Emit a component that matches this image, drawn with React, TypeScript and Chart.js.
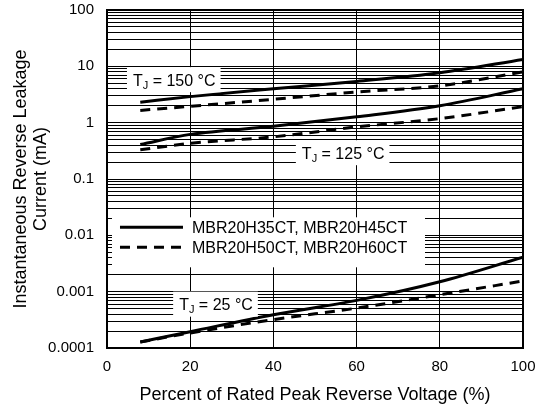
import React, { useEffect, useRef } from "react";
import { Chart, registerables } from "chart.js";

Chart.register(...registerables);

const xValues = [8, 20, 40, 60, 80, 100];
const s150Solid = [2.3, 2.9, 4.0, 5.4, 7.7, 13.3];
const s150Dashed = [1.65, 1.95, 2.6, 3.5, 4.5, 8.0];
const s125Solid = [0.41, 0.62, 0.86, 1.27, 2.0, 4.0];
const s125Dashed = [0.33, 0.43, 0.56, 0.84, 1.18, 1.92];
const s25Solid = [0.000128, 0.000195, 0.00039, 0.0007, 0.0015, 0.0041];
const s25Dashed = [0.000128, 0.000185, 0.00032, 0.00051, 0.00088, 0.00155];

const xTicks = [0, 20, 40, 60, 80, 100];
const yDecades = [0.0001, 0.001, 0.01, 0.1, 1, 10, 100];
const yDecadeLabels = ["0.0001", "0.001", "0.01", "0.1", "1", "10", "100"];

const legendLabels = ["MBR20H35CT, MBR20H45CT", "MBR20H50CT, MBR20H60CT"];
const tempLabels = [
  { temp: "150", x: 4.8, y: 5.8 },
  { temp: "125", x: 45.4, y: 0.293 },
  { temp: "25", x: 15.9, y: 0.0006 },
];

const FONT = "'Liberation Sans', Arial, Helvetica, sans-serif";
const DASH = [10, 7];

function pts(ys: number[]) {
  return xValues.map((x, i) => ({ x, y: ys[i] }));
}

function allYTicks() {
  const out: { value: number }[] = [];
  for (let d = 0; d < yDecades.length - 1; d++) {
    for (let m = 1; m <= 9; m++) out.push({ value: +(yDecades[d] * m).toPrecision(3) });
  }
  out.push({ value: yDecades[yDecades.length - 1] });
  return out;
}

const overlayPlugin = {
  id: "overlay",
  afterDatasetsDraw(chart: any) {
    const { ctx, chartArea, scales } = chart;
    const xs = scales.x;
    const ys = scales.y;
    ctx.save();
    // frame
    ctx.strokeStyle = "#000";
    ctx.lineWidth = 2;
    ctx.strokeRect(chartArea.left, chartArea.top, chartArea.right - chartArea.left, chartArea.bottom - chartArea.top);

    // temperature labels
    for (const t of tempLabels) {
      const px = xs.getPixelForValue(t.x);
      const py = ys.getPixelForValue(t.y);
      ctx.font = `16px ${FONT}`;
      const wT = ctx.measureText("T").width;
      const rest = ` = ${t.temp} °C`;
      const wR = ctx.measureText(rest).width;
      ctx.font = `11px ${FONT}`;
      const wJ = ctx.measureText("J").width;
      const w = 6 + wT + wJ + wR + 5;
      const h = 25;
      ctx.fillStyle = "#fff";
      ctx.fillRect(px, py - h / 2, w, h);
      ctx.fillStyle = "#000";
      ctx.textBaseline = "alphabetic";
      ctx.textAlign = "left";
      const base = py + 6;
      ctx.font = `16px ${FONT}`;
      ctx.fillText("T", px + 6, base);
      ctx.font = `11px ${FONT}`;
      ctx.fillText("J", px + 6 + wT, base + 3);
      ctx.font = `16px ${FONT}`;
      ctx.fillText(rest, px + 6 + wT + wJ, base);
    }

    // legend
    const lx = xs.getPixelForValue(1.2);
    const ly = ys.getPixelForValue(0.0209);
    const lw = 313;
    const lh = 50;
    ctx.fillStyle = "#fff";
    ctx.fillRect(lx, ly, lw, lh);
    const ds = chart.data.datasets;
    const samples = [ds[0], ds[1]];
    samples.forEach((d: any, i: number) => {
      const yy = ly + 10 + i * 20;
      ctx.strokeStyle = "#000";
      ctx.lineWidth = 3;
      ctx.setLineDash(d.borderDash || []);
      ctx.beginPath();
      ctx.moveTo(lx + 8, yy);
      ctx.lineTo(lx + 71, yy);
      ctx.stroke();
      ctx.setLineDash([]);
      ctx.fillStyle = "#000";
      ctx.font = `16px ${FONT}`;
      ctx.textBaseline = "middle";
      ctx.fillText(legendLabels[i], lx + 80, yy + 1);
    });
    ctx.restore();
  },
};

export default function App() {
  const ref = useRef<HTMLCanvasElement | null>(null);
  useEffect(() => {
    if (!ref.current) return;
    const mk = (data: number[], dashed: boolean) => ({
      data: pts(data),
      borderColor: "#000",
      backgroundColor: "#000",
      borderWidth: 3,
      borderDash: dashed ? DASH : [],
      pointRadius: 0,
      showLine: true,
      tension: 0.4,
      cubicInterpolationMode: "monotone" as const,
      fill: false,
    });
    const chart = new Chart(ref.current, {
      type: "scatter",
      data: {
        datasets: [
          mk(s150Solid, false),
          mk(s150Dashed, true),
          mk(s125Solid, false),
          mk(s125Dashed, true),
          mk(s25Solid, false),
          mk(s25Dashed, true),
        ],
      },
      options: {
        animation: false,
        responsive: false,
        layout: { padding: { left: 0, top: 10, right: 22, bottom: 0 } },
        plugins: { legend: { display: false }, tooltip: { enabled: false } },
        scales: {
          x: {
            type: "linear",
            min: 0,
            max: 100,
            afterBuildTicks: (s: any) => {
              s.ticks = xTicks.map((v) => ({ value: v }));
            },
            afterFit: (s: any) => {
              s.height = 62;
              s.paddingLeft = 0;
              s.paddingRight = 0;
            },
            grid: { color: "#000", lineWidth: 1, drawTicks: false },
            border: { display: false },
            ticks: {
              padding: 10,
              color: "#000",
              font: { family: FONT, size: 15 },
              autoSkip: false,
              maxRotation: 0,
            },
            title: {
              display: true,
              text: "Percent of Rated Peak Reverse Voltage (%)",
              color: "#000",
              font: { family: FONT, size: 18 },
              padding: { top: 0, bottom: 4 },
            },
          },
          y: {
            type: "logarithmic",
            min: 0.0001,
            max: 100,
            afterBuildTicks: (s: any) => {
              s.ticks = allYTicks();
            },
            afterFit: (s: any) => {
              s.width = 107;
              s.paddingTop = 0;
              s.paddingBottom = 0;
            },
            grid: { color: "#000", lineWidth: 1, drawTicks: false },
            border: { display: false },
            ticks: {
              padding: 13,
              color: "#000",
              font: { family: FONT, size: 15 },
              autoSkip: false,
              callback: (v: any) => {
                const idx = yDecades.findIndex((d) => Math.abs(d - Number(v)) / d < 1e-6);
                return idx >= 0 ? yDecadeLabels[idx] : "";
              },
            },
            title: {
              display: true,
              text: ["Instantaneous Reverse Leakage", "Current (mA)"],
              color: "#000",
              font: { family: FONT, size: 18, lineHeight: 1.11 },
              padding: { top: 11, bottom: 0 },
            },
          },
        },
      },
      plugins: [overlayPlugin],
    });
    return () => chart.destroy();
  }, []);
  return (
    <div style={{ position: "absolute", left: 0, top: 0, width: 545, height: 410, background: "#fff" }}>
      <canvas ref={ref} width={545} height={410} style={{ display: "block" }} />
    </div>
  );
}
